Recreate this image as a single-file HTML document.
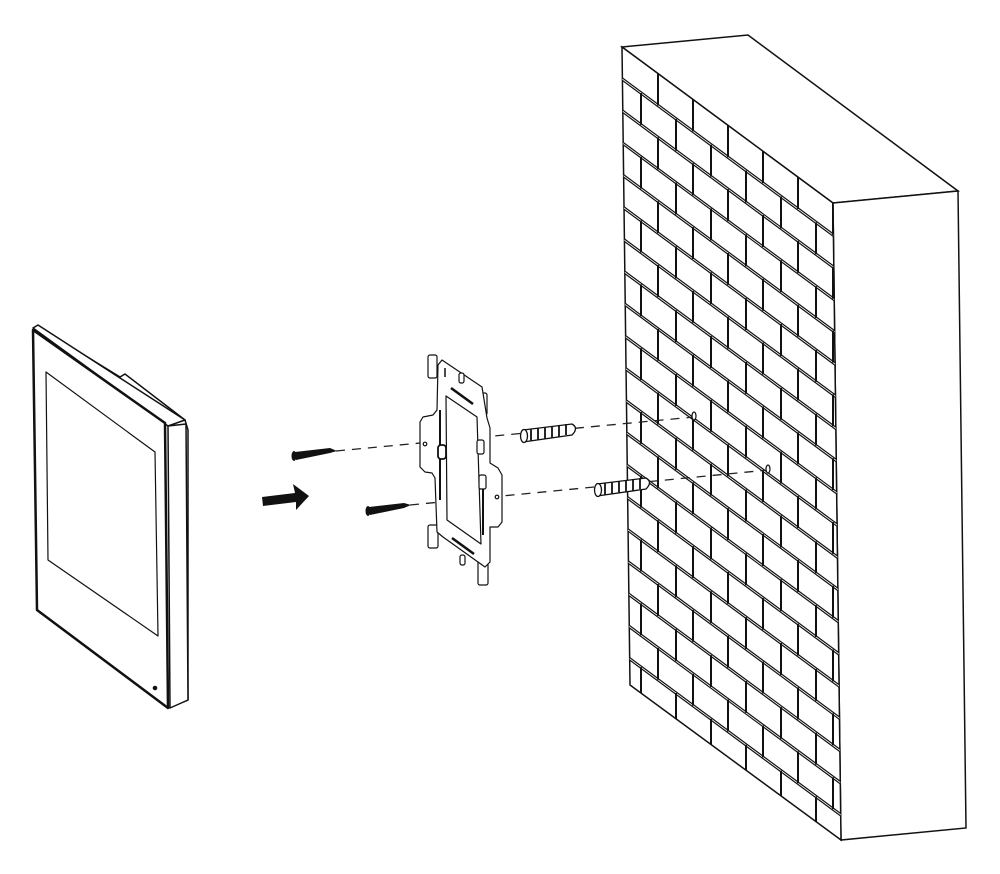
<!DOCTYPE html>
<html><head><meta charset="utf-8">
<style>html,body{margin:0;padding:0;background:#fff}svg{display:block}</style>
</head><body>
<svg id="s" width="1000" height="874" viewBox="0 0 1000 874" xmlns="http://www.w3.org/2000/svg">
<defs>
<clipPath id="face"><polygon points="622,47 833,203 841,840 630,685"/></clipPath>
</defs>
<polygon points="622,47 748,35 958,191 833,203" fill="#fff" stroke="#111" stroke-width="1.5"/>
<polygon points="833,203 958,191 966,828 841,840" fill="#fff" stroke="#111" stroke-width="1.5"/>
<polygon points="622,47 833,203 841,840 630,685" fill="#fff" stroke="#111" stroke-width="1.5"/>
<g id="bricks" clip-path="url(#face)"></g>

<g stroke="#111" fill="#fff" stroke-linejoin="round">
<polygon points="37,326 120,377 125,374 185,420 188,430 188,700 168,708" stroke-width="1.5"/>
<polygon points="33,328 38,325 185,420 168,426" stroke-width="1.5"/>
<polygon points="168,426 186,424 188,700 170,708" stroke-width="1.5"/>
<polygon points="33,330 165,423 168,708 37,610" stroke-width="2.5"/>
<polygon points="46,372 155,452 158,636 48,560" stroke-width="1.2"/>
<circle cx="155" cy="688" r="1.8" fill="#111"/>
</g>

<polygon points="262,497 295,493 293,484 309,496 296,510 296,502 263,506" fill="#111"/>

<g stroke="#222" stroke-width="1.3" stroke-dasharray="9,7" fill="none">
<line x1="336" y1="451" x2="694" y2="417"/>
<line x1="410" y1="505" x2="768" y2="470"/>
</g>
<ellipse cx="694" cy="416" rx="2" ry="4" fill="#fff" stroke="#111" stroke-width="1.2"/>
<ellipse cx="768" cy="469" rx="2" ry="4" fill="#fff" stroke="#111" stroke-width="1.2"/>

<g fill="#111">
<ellipse cx="294" cy="456" rx="2.5" ry="5"/>
<polygon points="295,452 330,448 337,451 330,453 296,460"/>
<ellipse cx="368" cy="511" rx="2.5" ry="5"/>
<polygon points="369,507 404,503 411,505 404,508 370,515"/>
</g>

<g stroke="#111" stroke-width="1.3" fill="#fff">
<path d="M523,430 L572,424 Q579,428 572,435 L523,442 Z"/>
<ellipse cx="524" cy="436" rx="3.5" ry="6.5"/>
<path d="M531,429v12M538,428v12M545,427v12M552,426v12M559,425v12M566,424v11" fill="none" stroke-width="1.8"/>
<path d="M597,484 L646,478 Q653,482 646,489 L597,496 Z"/>
<ellipse cx="598" cy="490" rx="3.5" ry="6.5"/>
<path d="M605,483v12M612,482v12M619,481v12M626,480v12M633,479v12M640,478v11" fill="none" stroke-width="1.8"/>
</g>

<g stroke="#111" fill="#fff" stroke-width="1.2" stroke-linejoin="round">
<rect x="428" y="355" width="9" height="23" rx="2"/>
<rect x="477" y="393" width="10" height="22" rx="2"/>
<rect x="428" y="525" width="10" height="23" rx="2"/>
<rect x="478" y="560" width="10" height="25" rx="2"/>
<polygon points="442,360 482,387 487,418 490,428 490,463 498,468 502,475 502,522 498,527 490,527 490,562 485,567 443,537 437,532 435,478 432,473 425,472 420,467 420,422 423,417 433,415 437,410 438,365"/>
<polygon points="446,396 477,417 481,544 447,520"/>
<line x1="451" y1="388" x2="473" y2="404" stroke-width="2.5"/>
<line x1="452" y1="538" x2="474" y2="554" stroke-width="2.5"/>
<line x1="440" y1="410" x2="440" y2="500" stroke-width="2"/>
<line x1="483" y1="480" x2="483" y2="535" stroke-width="2"/>
<rect x="438" y="445" width="8" height="14" rx="3" stroke-width="1.8"/>
<rect x="477" y="440" width="7" height="14" rx="2"/>
<rect x="479" y="475" width="7" height="14" rx="2"/>
<circle cx="425" cy="444" r="1.8"/>
<circle cx="497" cy="497" r="1.8"/>
<line x1="445" y1="368" x2="445" y2="377" stroke-width="1.5"/>
<rect x="459" y="373" width="5" height="10" rx="2"/>
<rect x="460" y="555" width="5" height="10" rx="2"/>
</g>
</svg>
<script>
(function(){
var g=document.getElementById('bricks'),ns='http://www.w3.org/2000/svg';
var s=156/211, x0=622,y0=47,dy=31.9,w=35;
function L(x1,y1,x2,y2,sw,c){var l=document.createElementNS(ns,'line');l.setAttribute('x1',x1);l.setAttribute('y1',y1);l.setAttribute('x2',x2);l.setAttribute('y2',y2);l.setAttribute('stroke',c||'#111');l.setAttribute('stroke-width',sw);g.appendChild(l);}
for(var k=1;k<21;k++){var y=y0+dy*k;L(600,y-22*s,860,y+(860-x0)*s,3.2);L(600,y-22*s,860,y+(860-x0)*s,0.8,'#fff');}
for(var k=0;k<21;k++){var off=(k%2==0)?36:19;
 for(var x=x0+off;x<850;x+=w){var yt=y0+dy*k+(x-x0)*s;L(x,yt,x,yt+dy,2);}}
})();
</script>
</body></html>
